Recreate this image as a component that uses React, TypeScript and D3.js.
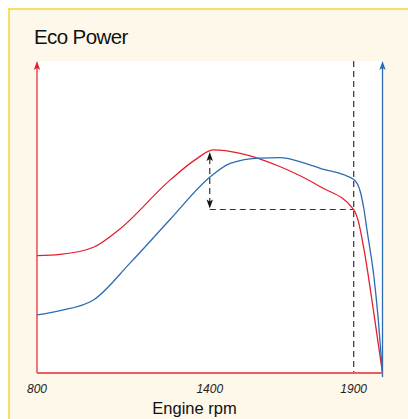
import React from "react";
import * as d3 from "d3";

const redRpm = [800, 880, 996, 1083, 1263, 1349, 1412, 1506, 1645, 1784, 1900, 1915, 1935, 1970, 2000];
const redValues = [37.6, 38.0, 40.3, 45.8, 61.9, 68.3, 71.5, 70.4, 66.1, 59.7, 52.4, 49.0, 40.0, 19.1, 0];
const blueRpm = [800, 880, 996, 1123, 1263, 1402, 1471, 1574, 1645, 1715, 1784, 1900, 1923, 1935, 1947, 1970, 1985, 2000];
const blueValues = [18.6, 20.0, 23.4, 35.2, 49.3, 62.9, 67.2, 68.9, 69.0, 67.7, 65.6, 62.0, 58.1, 52.8, 45.3, 31.0, 17.5, 0];
const tickValues = [800, 1400, 1900];
const title = "Eco Power";
const xLabel = "Engine rpm";
const markerRpm = 1400;
const cutRpm = 1900;

const W = 408, H = 419;
const L = 37, R = 382.5, T = 61, B = 373;
const RED = "#E31F2D", BLUE = "#2B6CB3", DASH = "#333";

export default function App() {
  const x = d3.scaleLinear().domain([800, 2000]).range([L, R]);
  const y = d3.scaleLinear().domain([0, 100]).range([B, T]);
  const line = d3.line<[number, number]>().x(d => x(d[0])).y(d => y(d[1])).curve(d3.curveMonotoneX);
  const redPath = line(redRpm.map((r, i) => [r, redValues[i]]) as [number, number][]) || "";
  const bluePath = line(blueRpm.map((r, i) => [r, blueValues[i]]) as [number, number][]) || "";
  const cutVal = redValues[redRpm.indexOf(cutRpm)];
  const peakVal = d3.max(redValues) as number;
  const ax = x(markerRpm);
  const yTop = y(peakVal) + 2;
  const yBot = y(cutVal) - 1;
  const arrowUp = (cx: number, ty: number) =>
    `M${cx},${ty} L${cx + 3.2},${ty + 9} L${cx},${ty + 7} L${cx - 3.2},${ty + 9} Z`;
  const arrowDown = (cx: number, by: number) =>
    `M${cx},${by} L${cx + 3.2},${by - 9} L${cx},${by - 7} L${cx - 3.2},${by - 9} Z`;
  return (
    <svg width={W} height={H} style={{ position: "absolute", left: 0, top: 0 }} fontFamily="'Liberation Sans', Arial, sans-serif">
      <rect x={0} y={0} width={W} height={H} fill="#fff" />
      <rect x={9} y={9} width={W + 20} height={H + 20} fill="#FEF8EA" stroke="#F8DC6C" strokeWidth={2} />
      <text x={34} y={44} fontSize={20.5} letterSpacing={-0.6} fill="#111">{title}</text>
      <rect x={L} y={T} width={R - L} height={B - T} fill="#fff" />
      <line x1={x(cutRpm)} x2={x(cutRpm)} y1={T} y2={B + 1} stroke={DASH} strokeWidth={1.2} strokeDasharray="6,4" />
      <line x1={ax} x2={x(cutRpm)} y1={y(cutVal)} y2={y(cutVal)} stroke={DASH} strokeWidth={1.2} strokeDasharray="6,4" />
      <line x1={ax} x2={ax} y1={yTop + 6} y2={yBot - 6} stroke={DASH} strokeWidth={1.2} strokeDasharray="6,4" />
      <path d={arrowUp(ax, yTop)} fill="#111" />
      <path d={arrowDown(ax, yBot)} fill="#111" />
      <path d={redPath} fill="none" stroke={RED} strokeWidth={1.3} />
      <path d={bluePath} fill="none" stroke={BLUE} strokeWidth={1.3} />
      <line x1={L} x2={L} y1={B} y2={T + 6} stroke={RED} strokeWidth={1.2} />
      <path d={arrowUp(L, T)} fill={RED} />
      <line x1={R} x2={R} y1={B + 4} y2={T + 6} stroke={BLUE} strokeWidth={1.3} />
      <path d={arrowUp(R, T)} fill={BLUE} />
      <line x1={L} x2={R} y1={B} y2={B} stroke="#EE5C63" strokeWidth={2} />
      {tickValues.map(t => (
        <text key={t} x={x(t)} y={392.5} fontSize={12} fontStyle="italic" textAnchor="middle" fill="#222">{t}</text>
      ))}
      <text x={194.5} y={413.5} fontSize={16.5} textAnchor="middle" fill="#111">{xLabel}</text>
    </svg>
  );
}
